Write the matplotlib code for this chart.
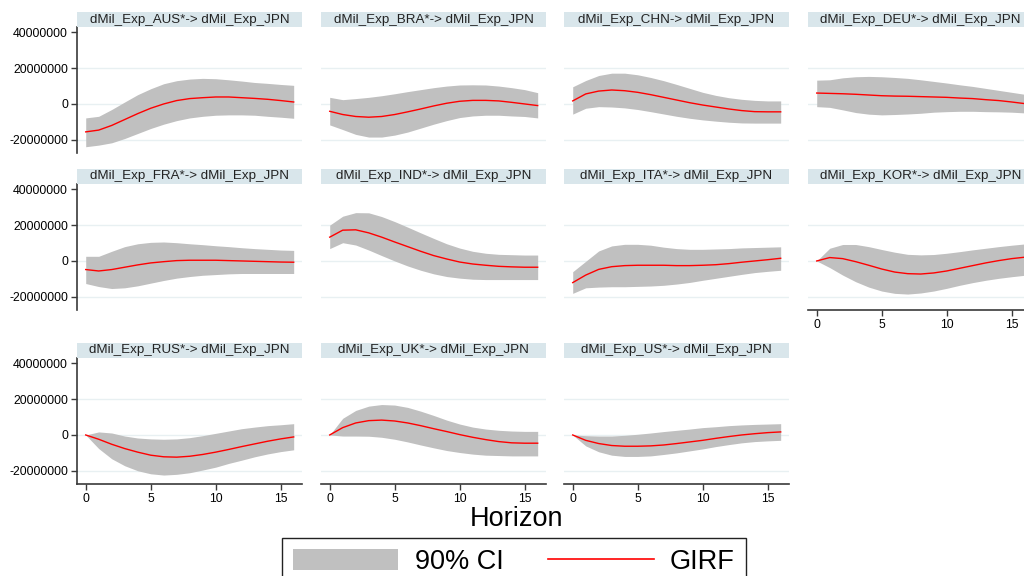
import matplotlib
matplotlib.use("Agg")
import matplotlib.pyplot as plt
import numpy as np
from matplotlib.patches import Patch
from matplotlib.lines import Line2D

plt.rcParams["font.family"] = ["Liberation Sans", "DejaVu Sans"]

# ── data (values in millions) ────────────────────────────────────────────────
HORIZON = list(range(17))
XTICKS = [0, 5, 10, 15]
YTICKS = [-20000000, 0, 20000000, 40000000]
GRID_LEVELS = [-20000000, 0, 20000000]

TITLES = [
    "dMil_Exp_AUS*-> dMil_Exp_JPN", "dMil_Exp_BRA*-> dMil_Exp_JPN",
    "dMil_Exp_CHN-> dMil_Exp_JPN", "dMil_Exp_DEU*-> dMil_Exp_JPN",
    "dMil_Exp_FRA*-> dMil_Exp_JPN", "dMil_Exp_IND*-> dMil_Exp_JPN",
    "dMil_Exp_ITA*-> dMil_Exp_JPN", "dMil_Exp_KOR*-> dMil_Exp_JPN",
    "dMil_Exp_RUS*-> dMil_Exp_JPN", "dMil_Exp_UK*-> dMil_Exp_JPN",
    "dMil_Exp_US*-> dMil_Exp_JPN",
]

AUS_GIRF = [-15.6, -14.6, -12.0, -8.7, -5.4, -2.4, 0.0, 1.9, 3.0, 3.5, 3.9, 3.9, 3.5, 3.1, 2.6, 1.9, 1.1]
AUS_HI = [-7.8, -6.9, -3.1, 1.1, 5.2, 8.5, 11.3, 13.0, 13.9, 14.3, 14.1, 13.5, 12.8, 12.0, 11.5, 10.9, 10.4]
AUS_LO = [-23.9, -23.0, -21.7, -19.3, -16.5, -13.7, -11.3, -9.3, -7.8, -6.9, -6.3, -6.1, -6.1, -6.3, -6.9, -7.4, -8.0]

BRA_GIRF = [-4.1, -5.9, -7.0, -7.4, -7.0, -5.9, -4.4, -2.8, -1.1, 0.4, 1.5, 2.0, 2.0, 1.7, 0.9, 0.0, -0.9]
BRA_HI = [3.7, 2.4, 3.0, 3.7, 4.6, 5.7, 6.9, 8.0, 9.1, 10.0, 10.6, 10.7, 10.6, 10.0, 9.1, 8.0, 6.3]
BRA_LO = [-11.7, -14.3, -17.0, -18.5, -18.5, -17.4, -15.7, -13.5, -11.3, -9.3, -7.6, -6.7, -6.3, -6.3, -6.7, -7.0, -7.8]

CHN_GIRF = [1.7, 5.6, 7.2, 7.8, 7.4, 6.5, 5.2, 3.7, 2.2, 0.7, -0.6, -1.7, -2.8, -3.7, -4.3, -4.4, -4.4]
CHN_HI = [9.6, 13.1, 15.9, 17.2, 17.2, 16.3, 14.8, 13.0, 10.9, 8.7, 6.5, 4.8, 3.5, 2.6, 2.0, 1.7, 1.7]
CHN_LO = [-5.7, -2.4, -1.5, -1.7, -2.2, -3.1, -4.3, -5.6, -6.9, -8.0, -8.9, -9.6, -10.2, -10.6, -10.7, -10.7, -10.7]

DEU_GIRF = [6.1, 5.9, 5.7, 5.4, 5.0, 4.6, 4.4, 4.3, 4.1, 3.9, 3.7, 3.3, 3.0, 2.4, 1.9, 1.1, 0.2]
DEU_HI = [13.3, 13.5, 14.6, 15.2, 15.4, 15.2, 14.8, 14.3, 13.5, 12.6, 11.7, 10.7, 9.8, 8.7, 7.6, 6.5, 5.4]
DEU_LO = [-1.5, -1.9, -3.3, -4.8, -5.7, -6.1, -5.9, -5.6, -5.2, -4.6, -4.3, -4.1, -4.1, -4.3, -4.4, -4.6, -5.0]

FRA_GIRF = [-4.8, -5.6, -4.8, -3.5, -2.2, -1.1, -0.4, 0.2, 0.4, 0.4, 0.4, 0.2, 0.0, -0.2, -0.4, -0.6, -0.7]
FRA_HI = [2.6, 2.6, 5.4, 8.0, 9.6, 10.4, 10.6, 10.2, 9.6, 9.1, 8.5, 8.0, 7.4, 6.9, 6.5, 6.1, 5.9]
FRA_LO = [-12.6, -14.3, -15.4, -15.0, -13.9, -12.4, -10.9, -9.6, -8.7, -8.0, -7.6, -7.2, -7.0, -7.0, -7.0, -7.0, -7.0]

IND_GIRF = [13.3, 17.2, 17.4, 15.7, 13.3, 10.6, 8.0, 5.4, 3.0, 1.1, -0.6, -1.7, -2.4, -3.0, -3.3, -3.5, -3.5]
IND_HI = [20.0, 25.0, 27.0, 26.9, 24.8, 22.0, 18.9, 15.7, 12.6, 9.6, 7.2, 5.4, 4.3, 3.7, 3.5, 3.3, 3.3]
IND_LO = [6.9, 10.2, 8.9, 6.1, 3.0, 0.0, -2.8, -5.2, -7.2, -8.7, -9.6, -10.2, -10.4, -10.4, -10.4, -10.4, -10.4]

ITA_GIRF = [-12.1, -7.9, -4.7, -3.2, -2.6, -2.4, -2.4, -2.4, -2.6, -2.6, -2.4, -2.1, -1.5, -0.7, 0.0, 0.7, 1.5]
ITA_HI = [-6.0, -0.2, 5.6, 8.4, 9.3, 9.3, 8.8, 7.7, 6.9, 6.5, 6.5, 6.7, 6.9, 7.3, 7.5, 7.7, 7.9]
ITA_LO = [-18.1, -15.0, -14.6, -14.4, -14.4, -14.2, -14.0, -13.6, -12.9, -12.0, -10.8, -9.7, -8.6, -7.5, -6.5, -5.8, -5.2]

KOR_GIRF = [0.0, 1.9, 1.3, -0.4, -2.4, -4.5, -6.2, -7.1, -7.3, -6.7, -5.6, -4.1, -2.6, -1.1, 0.2, 1.3, 2.1]
KOR_HI = [0.0, 7.1, 9.2, 9.2, 8.0, 6.4, 4.9, 3.7, 3.4, 3.6, 4.3, 5.2, 6.2, 7.1, 8.0, 8.8, 9.5]
KOR_LO = [0.0, -3.7, -7.9, -11.6, -14.6, -16.8, -18.1, -18.5, -17.9, -16.8, -15.3, -13.6, -12.1, -10.8, -9.7, -8.8, -8.0]

RUS_GIRF = [0.0, -2.4, -5.2, -7.6, -9.6, -11.3, -12.2, -12.4, -11.9, -10.9, -9.6, -8.1, -6.5, -5.0, -3.5, -2.2, -1.1]
RUS_HI = [0.0, 1.7, 1.1, -0.6, -1.7, -2.2, -2.4, -2.2, -1.5, -0.4, 0.9, 2.2, 3.5, 4.4, 5.2, 5.7, 6.3]
RUS_LO = [0.0, -7.6, -13.3, -17.2, -20.0, -21.7, -22.4, -22.0, -21.1, -19.6, -18.0, -15.9, -14.1, -12.2, -10.6, -9.3, -8.3]

UK_GIRF = [0.0, 4.1, 6.7, 8.0, 8.3, 7.8, 6.7, 5.2, 3.5, 1.9, 0.2, -1.3, -2.6, -3.7, -4.4, -4.6, -4.6]
UK_HI = [0.0, 9.3, 13.7, 16.1, 17.0, 16.7, 15.4, 13.3, 10.9, 8.3, 6.1, 4.4, 3.3, 2.6, 2.2, 2.0, 2.0]
UK_LO = [0.0, -0.6, -0.6, -0.7, -1.3, -2.4, -3.9, -5.6, -7.2, -8.7, -9.8, -10.7, -11.3, -11.5, -11.7, -11.7, -11.7]

US_GIRF = [0.0, -3.0, -4.8, -5.9, -6.3, -6.3, -6.1, -5.6, -4.8, -3.9, -3.0, -1.9, -0.9, 0.0, 0.7, 1.3, 1.7]
US_HI = [0.0, -0.4, -0.6, -0.6, -0.2, 0.4, 1.1, 1.9, 2.6, 3.3, 4.1, 4.6, 5.2, 5.6, 5.9, 6.1, 6.3]
US_LO = [0.0, -6.1, -9.4, -11.3, -12.0, -12.0, -11.7, -10.9, -10.0, -8.9, -7.8, -6.5, -5.4, -4.4, -3.7, -3.3, -3.0]

PANELS = [
    (AUS_GIRF, AUS_LO, AUS_HI), (BRA_GIRF, BRA_LO, BRA_HI),
    (CHN_GIRF, CHN_LO, CHN_HI), (DEU_GIRF, DEU_LO, DEU_HI),
    (FRA_GIRF, FRA_LO, FRA_HI), (IND_GIRF, IND_LO, IND_HI),
    (ITA_GIRF, ITA_LO, ITA_HI), (KOR_GIRF, KOR_LO, KOR_HI),
    (RUS_GIRF, RUS_LO, RUS_HI), (UK_GIRF, UK_LO, UK_HI),
    (US_GIRF, US_LO, US_HI),
]

# ── layout (pixels on a 1024x576 canvas) ──────────────────────────────────────
W, H = 1024, 576
COL_LEFT = [77, 321, 564, 808]
ROW_TOP = [27, 184, 358]
AX_W, AX_H = 225, 126
STRIP_H = 15

BAND_COLOR = "#c0c0c0"
LINE_COLOR = "#ff0000"
STRIP_COLOR = "#d9e6eb"
GRID_COLOR = "#e8f0f2"
AXIS_COLOR = "#3a3a3a"


def px_rect(left, top, w, h):
    return [left / W, 1 - (top + h) / H, w / W, h / H]


fig = plt.figure(figsize=(W / 100, H / 100), dpi=100)

for i, (title, (girf, lo, hi)) in enumerate(zip(TITLES, PANELS)):
    row, col = divmod(i, 4)
    left, top = COL_LEFT[col], ROW_TOP[row]
    ax = fig.add_axes(px_rect(left, top, AX_W, AX_H))

    for lvl in GRID_LEVELS:
        ax.axhline(lvl, color=GRID_COLOR, lw=1.0, zorder=0)

    ax.fill_between(HORIZON, np.array(lo) * 1e6, np.array(hi) * 1e6,
                    color=BAND_COLOR, lw=0, zorder=1)
    ax.plot(HORIZON, np.array(girf) * 1e6, color=LINE_COLOR, lw=1.0, zorder=2)

    ax.set_xlim(-0.67, 16.64)
    ax.set_ylim(-27.4e6, 43.0e6)
    for s in ax.spines.values():
        s.set_visible(False)

    # y axis only on first column
    if col == 0:
        ax.spines["left"].set_visible(True)
        ax.spines["left"].set_color(AXIS_COLOR)
        ax.spines["left"].set_linewidth(1.2)
        ax.set_yticks(YTICKS)
        ax.set_yticklabels([f"{v:d}" for v in YTICKS])
        ax.tick_params(axis="y", direction="out", length=4, width=1,
                       color=AXIS_COLOR, labelsize=8.8, pad=2.5)
    else:
        ax.set_yticks([])

    # x axis only where nothing sits below the panel
    if row == 2 or (row == 1 and col == 3):
        ax.spines["bottom"].set_visible(True)
        ax.spines["bottom"].set_color(AXIS_COLOR)
        ax.spines["bottom"].set_linewidth(1.2)
        ax.set_xticks(XTICKS)
        ax.tick_params(axis="x", direction="out", length=4, width=1,
                       color=AXIS_COLOR, labelsize=8.8, pad=2.5)
    else:
        ax.set_xticks([])

    # panel strip
    sax = fig.add_axes(px_rect(left, top - STRIP_H, AX_W, STRIP_H))
    sax.set_facecolor(STRIP_COLOR)
    sax.set_xticks([])
    sax.set_yticks([])
    for s in sax.spines.values():
        s.set_visible(False)
    sax.text(0.5, 0.5, title, ha="center", va="center", fontsize=9.6,
             color="#222222", transform=sax.transAxes)

fig.text(516 / W, 1 - 519 / H, "Horizon", ha="center", va="center", fontsize=19.5)

handles = [
    Patch(facecolor=BAND_COLOR, edgecolor="none", label="90% CI"),
    Line2D([], [], color=LINE_COLOR, lw=1.2, label="GIRF"),
]
leg = fig.legend(
    handles=handles, loc="upper left",
    bbox_to_anchor=(282 / W, 1 - 538 / H),
    ncol=2, fontsize=19.5, frameon=True, fancybox=False,
    edgecolor="#222222", framealpha=1,
    handlelength=3.9, handleheight=0.85, handletextpad=0.6,
    columnspacing=1.65, borderpad=0.4, borderaxespad=0,
)
leg.get_frame().set_linewidth(1.0)

fig.savefig("out.png", dpi=100)
